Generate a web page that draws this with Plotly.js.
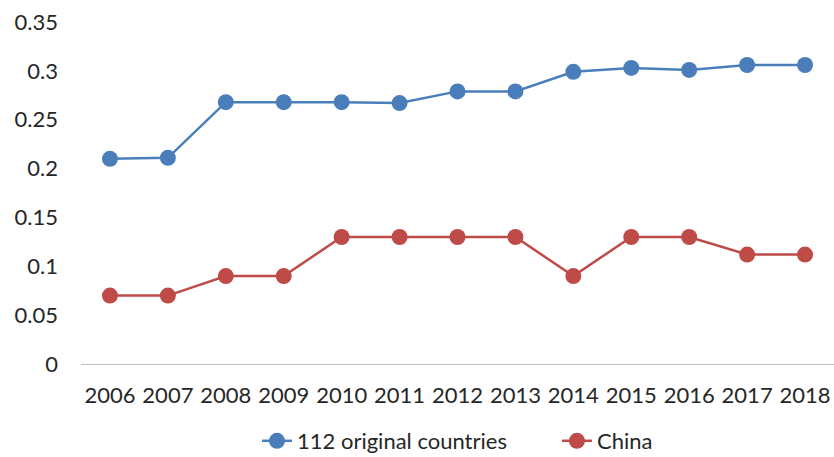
<!DOCTYPE html>
<html>
<head>
<meta charset="utf-8">
<script src="https://cdn.plot.ly/plotly-3.0.1.min.js"></script>
<style>html,body{margin:0;padding:0;background:#fff;}#chart{width:834px;height:457px;}</style>
</head>
<body>
<div id="chart"></div>
<script>
const years = ['2006','2007','2008','2009','2010','2011','2012','2013','2014','2015','2016','2017','2018'];
const original = [0.210,0.211,0.268,0.268,0.268,0.267,0.279,0.279,0.299,0.303,0.301,0.306,0.306];
const china = [0.070,0.070,0.090,0.090,0.130,0.130,0.130,0.130,0.090,0.130,0.130,0.112,0.112];
const yTicks = [0,0.05,0.1,0.15,0.2,0.25,0.3,0.35];
const yTickText = ['0','0.05','0.1','0.15','0.2','0.25','0.3','0.35'];
const seriesNames = ['112 original countries', 'China'];

const traces = [
  {x: years, y: original, name: seriesNames[0] + '\u00a0\u00a0\u00a0\u00a0\u00a0\u00a0\u00a0\u00a0', type: 'scatter', mode: 'lines+markers',
   line: {color: '#4A7EBB', width: 2.5}, marker: {color: '#4A7EBB', size: 16}},
  {x: years, y: china, name: seriesNames[1], type: 'scatter', mode: 'lines+markers',
   line: {color: '#BE4B48', width: 2.5}, marker: {color: '#BE4B48', size: 16}}
];
const layout = {
  width: 834, height: 457,
  margin: {l: 81, r: 0, t: 22, b: 93},
  paper_bgcolor: '#fff', plot_bgcolor: '#fff',
  font: {family: 'Lato, "Open Sans", sans-serif', size: 22, color: '#262626'},
  showlegend: true,
  legend: {orientation: 'h', x: 0.5, xanchor: 'center', yref: 'container', y: 0.035, yanchor: 'middle',
           font: {size: 22}, traceorder: 'normal'},
  xaxis: {type: 'category', showgrid: false, zeroline: false, showline: true,
          linecolor: '#BFBFBF', linewidth: 1, ticks: '', ticklabelstandoff: 12,
          range: [-0.5, 12.5], fixedrange: true},
  yaxis: {range: [0, 0.35], tickvals: yTicks, ticktext: yTickText, showgrid: false,
          zeroline: false, showline: false, ticks: '', ticklabelstandoff: 22, fixedrange: true}
};
Plotly.newPlot('chart', traces, layout, {displayModeBar: false, staticPlot: true});
</script>
</body>
</html>
